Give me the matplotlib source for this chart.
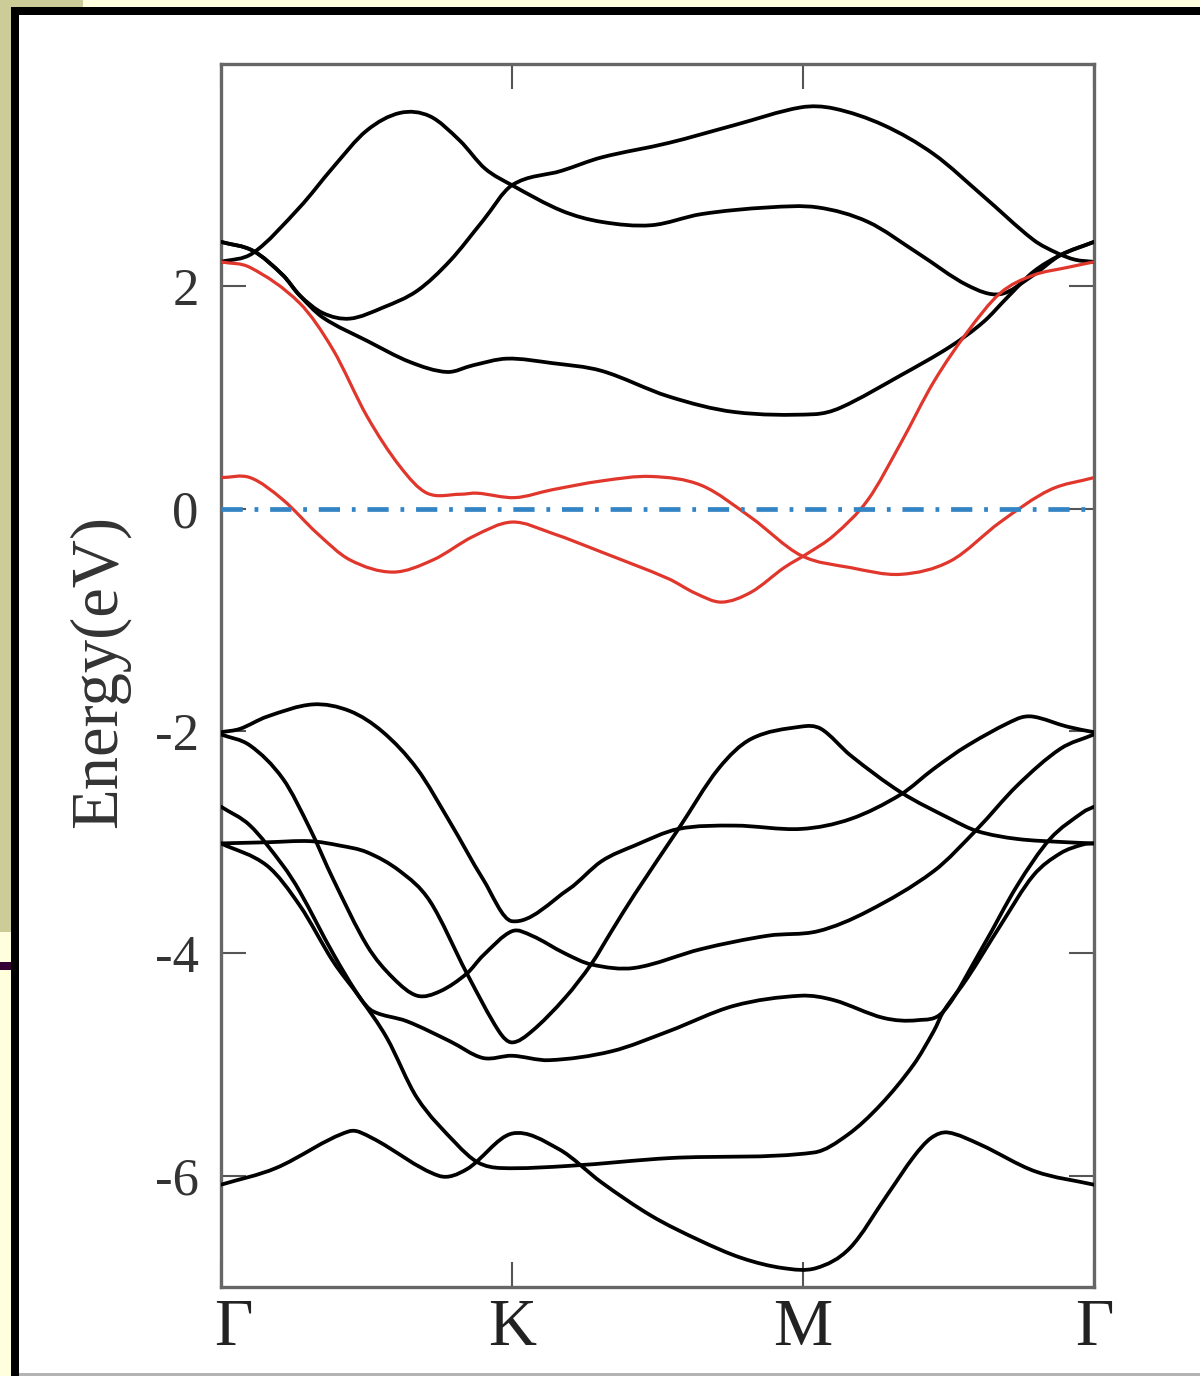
import matplotlib
matplotlib.use('Agg')
import matplotlib.pyplot as plt
from matplotlib.patches import Rectangle, PathPatch
from matplotlib.path import Path
from matplotlib.transforms import ScaledTranslation

# high symmetry path and axis ticks
kpoint_pos = [0, 1, 2, 3]
kpoint_labels = ['Γ', 'K', 'M', 'Γ']
energy_ticks = [-6, -4, -2, 0, 2]
energy_tick_labels = ['-6', '-4', '-2', '0', '2']
fermi_level = 0.0

# conduction bands (black)
c1_k = [0, 0.11, 0.27, 0.385, 0.50, 0.615, 0.718, 0.821, 0.907, 1.0, 1.171, 1.308, 1.479, 1.651,
        1.88, 2.051, 2.223, 2.394, 2.565, 2.678, 2.791, 2.884, 3.0]
c1_e = [2.22, 2.30, 2.71, 3.07, 3.40, 3.56, 3.53, 3.31, 3.06, 2.91, 2.68, 2.58, 2.55, 2.65,
        2.71, 2.71, 2.58, 2.30, 2.01, 1.93, 2.10, 2.28, 2.40]

c2_k = [0, 0.11, 0.213, 0.27, 0.35, 0.443, 0.557, 0.674, 0.787, 0.90, 1.0, 1.171, 1.308,
        1.538, 1.764, 1.993, 2.106, 2.277, 2.449, 2.62, 2.791, 2.873, 2.935, 3.0]
c2_e = [2.40, 2.32, 2.10, 1.92, 1.76, 1.71, 1.81, 1.96, 2.23, 2.59, 2.91, 3.04, 3.16,
        3.29, 3.45, 3.61, 3.60, 3.45, 3.19, 2.81, 2.42, 2.30, 2.24, 2.22]

c3_k = [0, 0.11, 0.213, 0.27, 0.35, 0.502, 0.649, 0.777, 0.866, 0.983, 1.137, 1.308, 1.538, 1.764,
        2.038, 2.13, 2.336, 2.507, 2.62, 2.702, 2.791, 2.884, 3.0]
c3_e = [2.40, 2.32, 2.10, 1.92, 1.72, 1.51, 1.32, 1.23, 1.29, 1.35, 1.31, 1.24, 1.01, 0.87,
        0.85, 0.91, 1.20, 1.46, 1.68, 1.90, 2.13, 2.28, 2.40]

# bands crossing the Fermi level (red)
r1_k = [0, 0.10, 0.27, 0.385, 0.502, 0.615, 0.708, 0.821, 0.88, 1.01, 1.137, 1.308, 1.479, 1.651,
        1.822, 1.993, 2.164, 2.336, 2.507, 2.678, 2.849, 3.0]
r1_e = [2.22, 2.17, 1.85, 1.43, 0.83, 0.38, 0.14, 0.13, 0.14, 0.10, 0.17, 0.25, 0.29, 0.21,
        -0.08, -0.42, -0.53, -0.59, -0.47, -0.12, 0.17, 0.28]

r2_k = [0, 0.10, 0.213, 0.33, 0.443, 0.591, 0.729, 0.866, 1.0, 1.137, 1.308, 1.538, 1.63, 1.72, 1.822,
        1.935, 2.017, 2.106, 2.223, 2.336, 2.449, 2.565, 2.678, 2.791, 2.908, 3.0]
r2_e = [0.28, 0.28, 0.08, -0.22, -0.46, -0.57, -0.46, -0.25, -0.12, -0.22, -0.39, -0.63, -0.76, -0.84, -0.75,
        -0.53, -0.40, -0.24, 0.08, 0.59, 1.14, 1.59, 1.94, 2.10, 2.17, 2.22]

# valence bands (black)
v1_k = [0, 0.065, 0.158, 0.316, 0.443, 0.557, 0.674, 0.787, 0.90, 1.0, 1.196, 1.308, 1.421,
        1.572, 1.764, 1.993, 2.164, 2.336, 2.449, 2.565, 2.736, 2.791, 2.908, 3.0]
v1_e = [-2.01, -1.98, -1.87, -1.76, -1.82, -2.01, -2.34, -2.82, -3.33, -3.71, -3.42, -3.17, -3.03,
        -2.88, -2.85, -2.88, -2.79, -2.57, -2.34, -2.13, -1.89, -1.87, -1.96, -2.01]

v2_k = [0, 0.10, 0.213, 0.306, 0.385, 0.502, 0.591, 0.674, 0.753, 0.845, 0.90, 1.0, 1.068, 1.182,
        1.274, 1.421, 1.651, 1.88, 2.051, 2.223, 2.449, 2.599, 2.736, 2.884, 3.0]
v2_e = [-2.03, -2.13, -2.43, -2.88, -3.33, -3.93, -4.22, -4.38, -4.34, -4.18, -4.02, -3.80, -3.84, -4.00,
        -4.10, -4.13, -3.96, -3.84, -3.80, -3.62, -3.26, -2.88, -2.49, -2.16, -2.03]

v3_k = [0, 0.10, 0.213, 0.27, 0.385, 0.478, 0.522, 0.639, 0.787, 0.90, 1.0, 1.127, 1.342, 1.538,
        1.764, 1.993, 2.106, 2.277, 2.394, 2.483, 2.62, 2.736, 2.849, 2.962, 3.0]
v3_e = [-2.68, -2.85, -3.21, -3.44, -4.00, -4.40, -4.52, -4.61, -4.79, -4.94, -4.92, -4.96, -4.88, -4.70,
        -4.47, -4.38, -4.42, -4.58, -4.60, -4.52, -3.93, -3.39, -2.97, -2.73, -2.68]

v4_k = [0, 0.158, 0.306, 0.409, 0.502, 0.615, 0.718, 0.845, 0.955, 1.0, 1.068, 1.182, 1.274, 1.342,
        1.421, 1.572, 1.709, 1.822, 1.993, 2.062, 2.164, 2.336, 2.507, 2.599, 2.736, 2.908, 3.0]
v4_e = [-3.01, -3.00, -2.99, -3.03, -3.09, -3.26, -3.53, -4.18, -4.70, -4.80, -4.70, -4.40, -4.09, -3.80,
        -3.47, -2.88, -2.34, -2.07, -1.96, -1.98, -2.22, -2.55, -2.79, -2.90, -2.97, -3.00, -3.01]

v5_k = [0, 0.158, 0.271, 0.385, 0.478, 0.57, 0.674, 0.808, 0.883, 0.962, 1.199, 1.545, 2.038, 2.154,
        2.267, 2.38, 2.449, 2.483, 2.565, 2.678, 2.791, 2.884, 2.962, 3.0]
v5_e = [-3.01, -3.21, -3.57, -4.07, -4.40, -4.76, -5.30, -5.71, -5.88, -5.93, -5.91, -5.84, -5.79, -5.63,
        -5.36, -5.00, -4.70, -4.52, -4.22, -3.75, -3.30, -3.10, -3.02, -3.01]

l1_k = [0, 0.189, 0.44, 0.519, 0.749, 0.845, 1.0, 1.161, 1.308, 1.479, 1.644, 1.79, 1.932, 2.045,
        2.161, 2.29, 2.38, 2.44, 2.497, 2.61, 2.798, 3.0]
l1_e = [-6.08, -5.93, -5.60, -5.66, -6.00, -5.94, -5.62, -5.76, -6.06, -6.36, -6.58, -6.74, -6.83, -6.83,
        -6.65, -6.17, -5.83, -5.66, -5.61, -5.72, -5.96, -6.08]

black_bands = [(c1_k, c1_e), (c2_k, c2_e), (c3_k, c3_e), (v1_k, v1_e), (v2_k, v2_e),
               (v3_k, v3_e), (v4_k, v4_e), (v5_k, v5_e), (l1_k, l1_e)]
red_bands = [(r1_k, r1_e), (r2_k, r2_e)]

W, H = 1200, 1376
plt.rcParams['font.family'] = ['Liberation Serif', 'DejaVu Serif']


def band_path(k, e):
    # bezier path through the read points, tangents from neighbours (k is monotonic)
    n = len(k)
    slopes = []
    for i in range(n):
        a = max(i - 1, 0)
        b = min(i + 1, n - 1)
        slopes.append((e[b] - e[a]) / (k[b] - k[a]))
    verts = [(k[0], e[0])]
    codes = [Path.MOVETO]
    for i in range(n - 1):
        dk = k[i + 1] - k[i]
        verts += [(k[i] + dk / 3, e[i] + slopes[i] * dk / 3),
                  (k[i + 1] - dk / 3, e[i + 1] - slopes[i + 1] * dk / 3),
                  (k[i + 1], e[i + 1])]
        codes += [Path.CURVE4] * 3
    return Path(verts, codes)


fig = plt.figure(figsize=(W / 100, H / 100), dpi=100)
fig.patch.set_facecolor('white')


def px_rect(x, y, w, h, color):
    # slide frame pieces, given in pixels from the top-left corner
    fig.add_artist(Rectangle((x / W, 1 - (y + h) / H), w / W, h / H, transform=fig.transFigure,
                             facecolor=color, edgecolor='none', zorder=0))


px_rect(0, 0, W, 7, '#ffffdd')
px_rect(0, 0, 83, 7, '#cccc99')
px_rect(0, 0, 11, 932, '#cccc99')
px_rect(0, 932, 11, H - 932, '#ffffdd')
px_rect(0, 962, 11, 8, '#330033')
px_rect(11, 7, W - 11, 8, 'black')
px_rect(11, 7, 8, H - 7, 'black')
px_rect(19, 1373, W - 19, 3, '#b4b4b4')

ax = fig.add_axes([221 / W, 1 - 1287 / H, 873 / W, 1223 / H])

for k, e in black_bands:
    ax.add_patch(PathPatch(band_path(k, e), facecolor='none', edgecolor='black', lw=2.7,
                           capstyle='round', joinstyle='round', zorder=3))
for k, e in red_bands:
    ax.add_patch(PathPatch(band_path(k, e), facecolor='none', edgecolor='#e0362c', lw=2.3,
                           capstyle='round', joinstyle='round', zorder=4))

ax.axhline(fermi_level, color='#3384c4', lw=3.4, dashes=(4.5, 2.5, 0.8, 2.5), zorder=5)

ax.set_xlim(0, 3)
ax.set_ylim(-7, 4)
ax.set_xticks(kpoint_pos)
ax.set_xticklabels(kpoint_labels, fontsize=48, color='#222222')
ax.set_yticks(energy_ticks)
ax.set_yticklabels(energy_tick_labels, fontsize=38, color='#333333')
ax.tick_params(axis='x', direction='in', length=18, width=1.5, color='#555555', top=True, pad=8)
ax.tick_params(axis='y', direction='in', length=18, width=1.5, color='#555555', right=True, pad=16)

# first Gamma label sits a bit right of the corner
lab0 = ax.get_xticklabels()[0]
lab0.set_transform(lab0.get_transform() + ScaledTranslation(0.12, 0, fig.dpi_scale_trans))

for side in ['left', 'right', 'top', 'bottom']:
    ax.spines[side].set_color('#666666')
    ax.spines[side].set_linewidth(2.4)

ax.set_ylabel('Energy(eV)', fontsize=48, color='#333333', va='center')
ax.yaxis.set_label_coords(-0.139, 0.503)

fig.savefig('out.png', dpi=100, facecolor=fig.get_facecolor())
